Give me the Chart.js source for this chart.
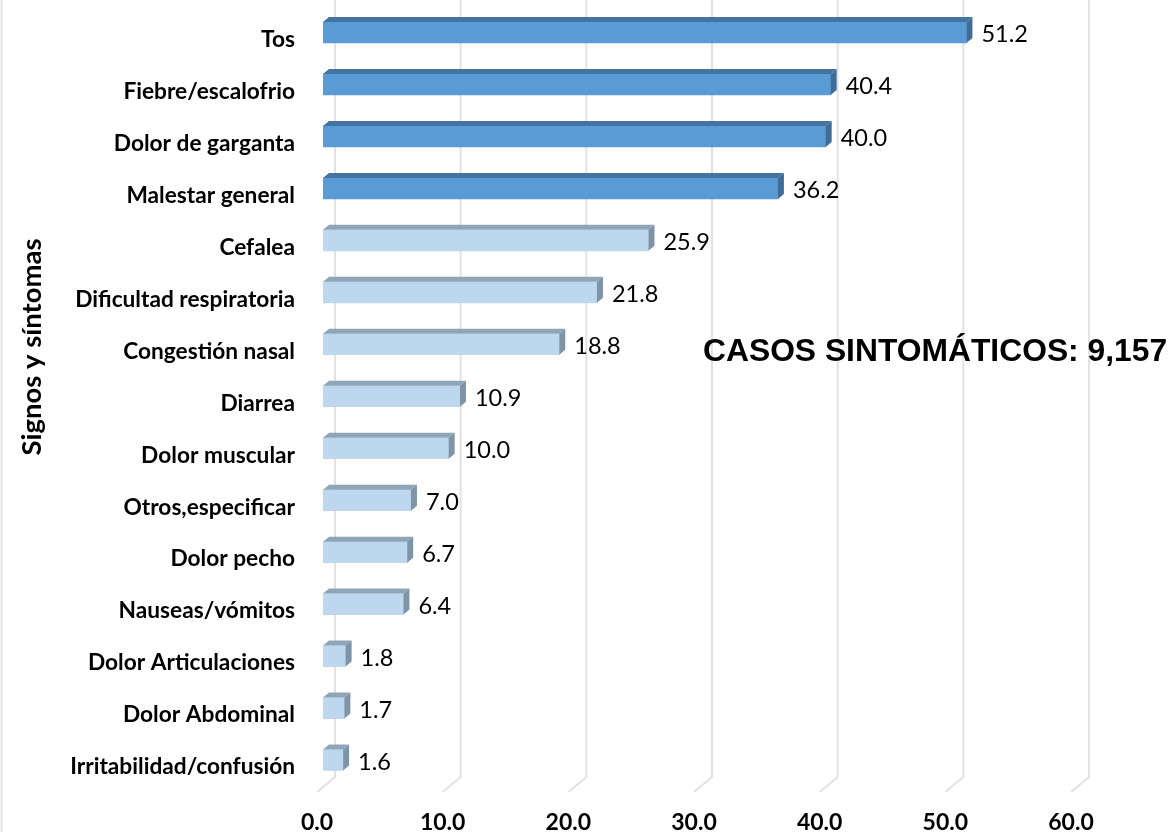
<!DOCTYPE html>
<html>
<head>
<meta charset="utf-8">
<style>
  html, body { margin: 0; padding: 0; background: #fff; }
  #wrap { position: relative; width: 1173px; height: 832px; }
</style>
<script src="https://cdn.jsdelivr.net/npm/chart.js@4"></script>
</head>
<body>
<div id="wrap"><canvas id="myChart" width="1173" height="832"></canvas></div>
<script>
'use strict';

const categories = ['Tos', 'Fiebre/escalofrio', 'Dolor de garganta', 'Malestar general', 'Cefalea',
  'Dificultad respiratoria', 'Congestión nasal', 'Diarrea', 'Dolor muscular', 'Otros,especificar',
  'Dolor pecho', 'Nauseas/vómitos', 'Dolor Articulaciones', 'Dolor Abdominal', 'Irritabilidad/confusión'];
const values = [51.2, 40.4, 40.0, 36.2, 25.9, 21.8, 18.8, 10.9, 10.0, 7.0, 6.7, 6.4, 1.8, 1.7, 1.6];
const axisTitle = 'Signos y síntomas';
const note = 'CASOS SINTOMÁTICOS: 9,157';

// las 4 primeras barras van en azul oscuro
const front = values.map((v, i) => i < 4 ? '#5b9bd5' : '#bdd7ee');
const topFace = values.map((v, i) => i < 4 ? '#44739f' : '#8fa5b8');
const sideFace = values.map((v, i) => i < 4 ? '#3f6d98' : '#8094a8');

// Paredes del grafico 3D (lineas de la grilla)
const wallGrid = {
  id: 'wallGrid',
  beforeDatasetsDraw(chart) {
    const x = chart.scales.x, c = chart.ctx;
    c.save();
    c.strokeStyle = '#e2e2e2';
    c.lineWidth = 2;
    x.ticks.forEach(t => {
      const px = x.getPixelForValue(t.value);
      c.beginPath();
      c.moveTo(px + 12, 0);
      c.lineTo(px + 12, 777);
      c.lineTo(px - 6, 792);
      c.stroke();
    });
    // borde del recuadro, a la izquierda
    c.beginPath();
    c.moveTo(1.5, 0);
    c.lineTo(1.5, 832);
    c.stroke();
    c.restore();
  }
};

// Caras superior y lateral de cada barra
const bar3d = {
  id: 'bar3d',
  afterDatasetsDraw(chart) {
    const c = chart.ctx;
    chart.getDatasetMeta(0).data.forEach((b, i) => {
      const t = b.y - b.height / 2, bo = b.y + b.height / 2;
      c.fillStyle = topFace[i];
      c.beginPath();
      c.moveTo(b.base, t);
      c.lineTo(b.base + 6, t - 5);
      c.lineTo(b.x + 6, t - 5);
      c.lineTo(b.x, t);
      c.fill();
      c.fillStyle = sideFace[i];
      c.beginPath();
      c.moveTo(b.x, t);
      c.lineTo(b.x + 6, t - 5);
      c.lineTo(b.x + 6, bo - 5);
      c.lineTo(b.x, bo);
      c.fill();
    });
  }
};

// Etiquetas de valor, titulo del eje y texto de casos
const textos = {
  id: 'textos',
  afterDraw(chart) {
    const c = chart.ctx;
    c.save();
    c.fillStyle = '#000';
    c.font = '23.5px Lato';
    c.textBaseline = 'middle';
    c.textAlign = 'left';
    chart.getDatasetMeta(0).data.forEach((b, i) => {
      c.fillText(values[i].toFixed(1), b.x + 15, b.y + 2);
    });
    c.font = 'bold 31.8px "Liberation Sans"';
    c.fillText(note, 703, 352);
    c.translate(32, 347);
    c.rotate(-Math.PI / 2);
    c.textAlign = 'center';
    c.font = 'bold 27.5px Lato';
    c.fillText(axisTitle, 0, 0);
    c.restore();
  }
};

const ctx = document.getElementById('myChart').getContext('2d');
const myChart = new Chart(ctx, {
  type: 'bar',
  data: {
    labels: categories,
    datasets: [{
      data: values,
      backgroundColor: front,
      borderWidth: 0,
      barThickness: 21
    }]
  },
  options: {
    indexAxis: 'y',
    responsive: false,
    animation: false,
    layout: { padding: { top: 6.5, right: 96, bottom: 0, left: 0 } },
    plugins: { legend: { display: false }, tooltip: { enabled: false } },
    scales: {
      x: {
        min: 0,
        max: 60,
        position: 'bottom',
        grid: { display: false },
        border: { display: false },
        afterFit(s) {
          s.height = 46;
          s.paddingLeft = 0;
          s.paddingRight = 0;
        },
        ticks: {
          stepSize: 10,
          maxRotation: 0,
          labelOffset: -6,
          padding: 15,
          color: '#000',
          font: { family: 'Lato', size: 23, weight: 'bold' },
          callback: v => v.toFixed(1)
        }
      },
      y: {
        grid: { display: false },
        border: { display: false },
        afterFit(s) {
          s.width = 323;
          s.paddingTop = 0;
          s.paddingBottom = 0;
        },
        ticks: {
          autoSkip: false,
          labelOffset: 7,
          padding: 20,
          color: '#000',
          font: { family: 'Lato', size: 22.7, weight: 'bold' }
        }
      }
    }
  },
  plugins: [wallGrid, bar3d, textos]
});
</script>
</body>
</html>
